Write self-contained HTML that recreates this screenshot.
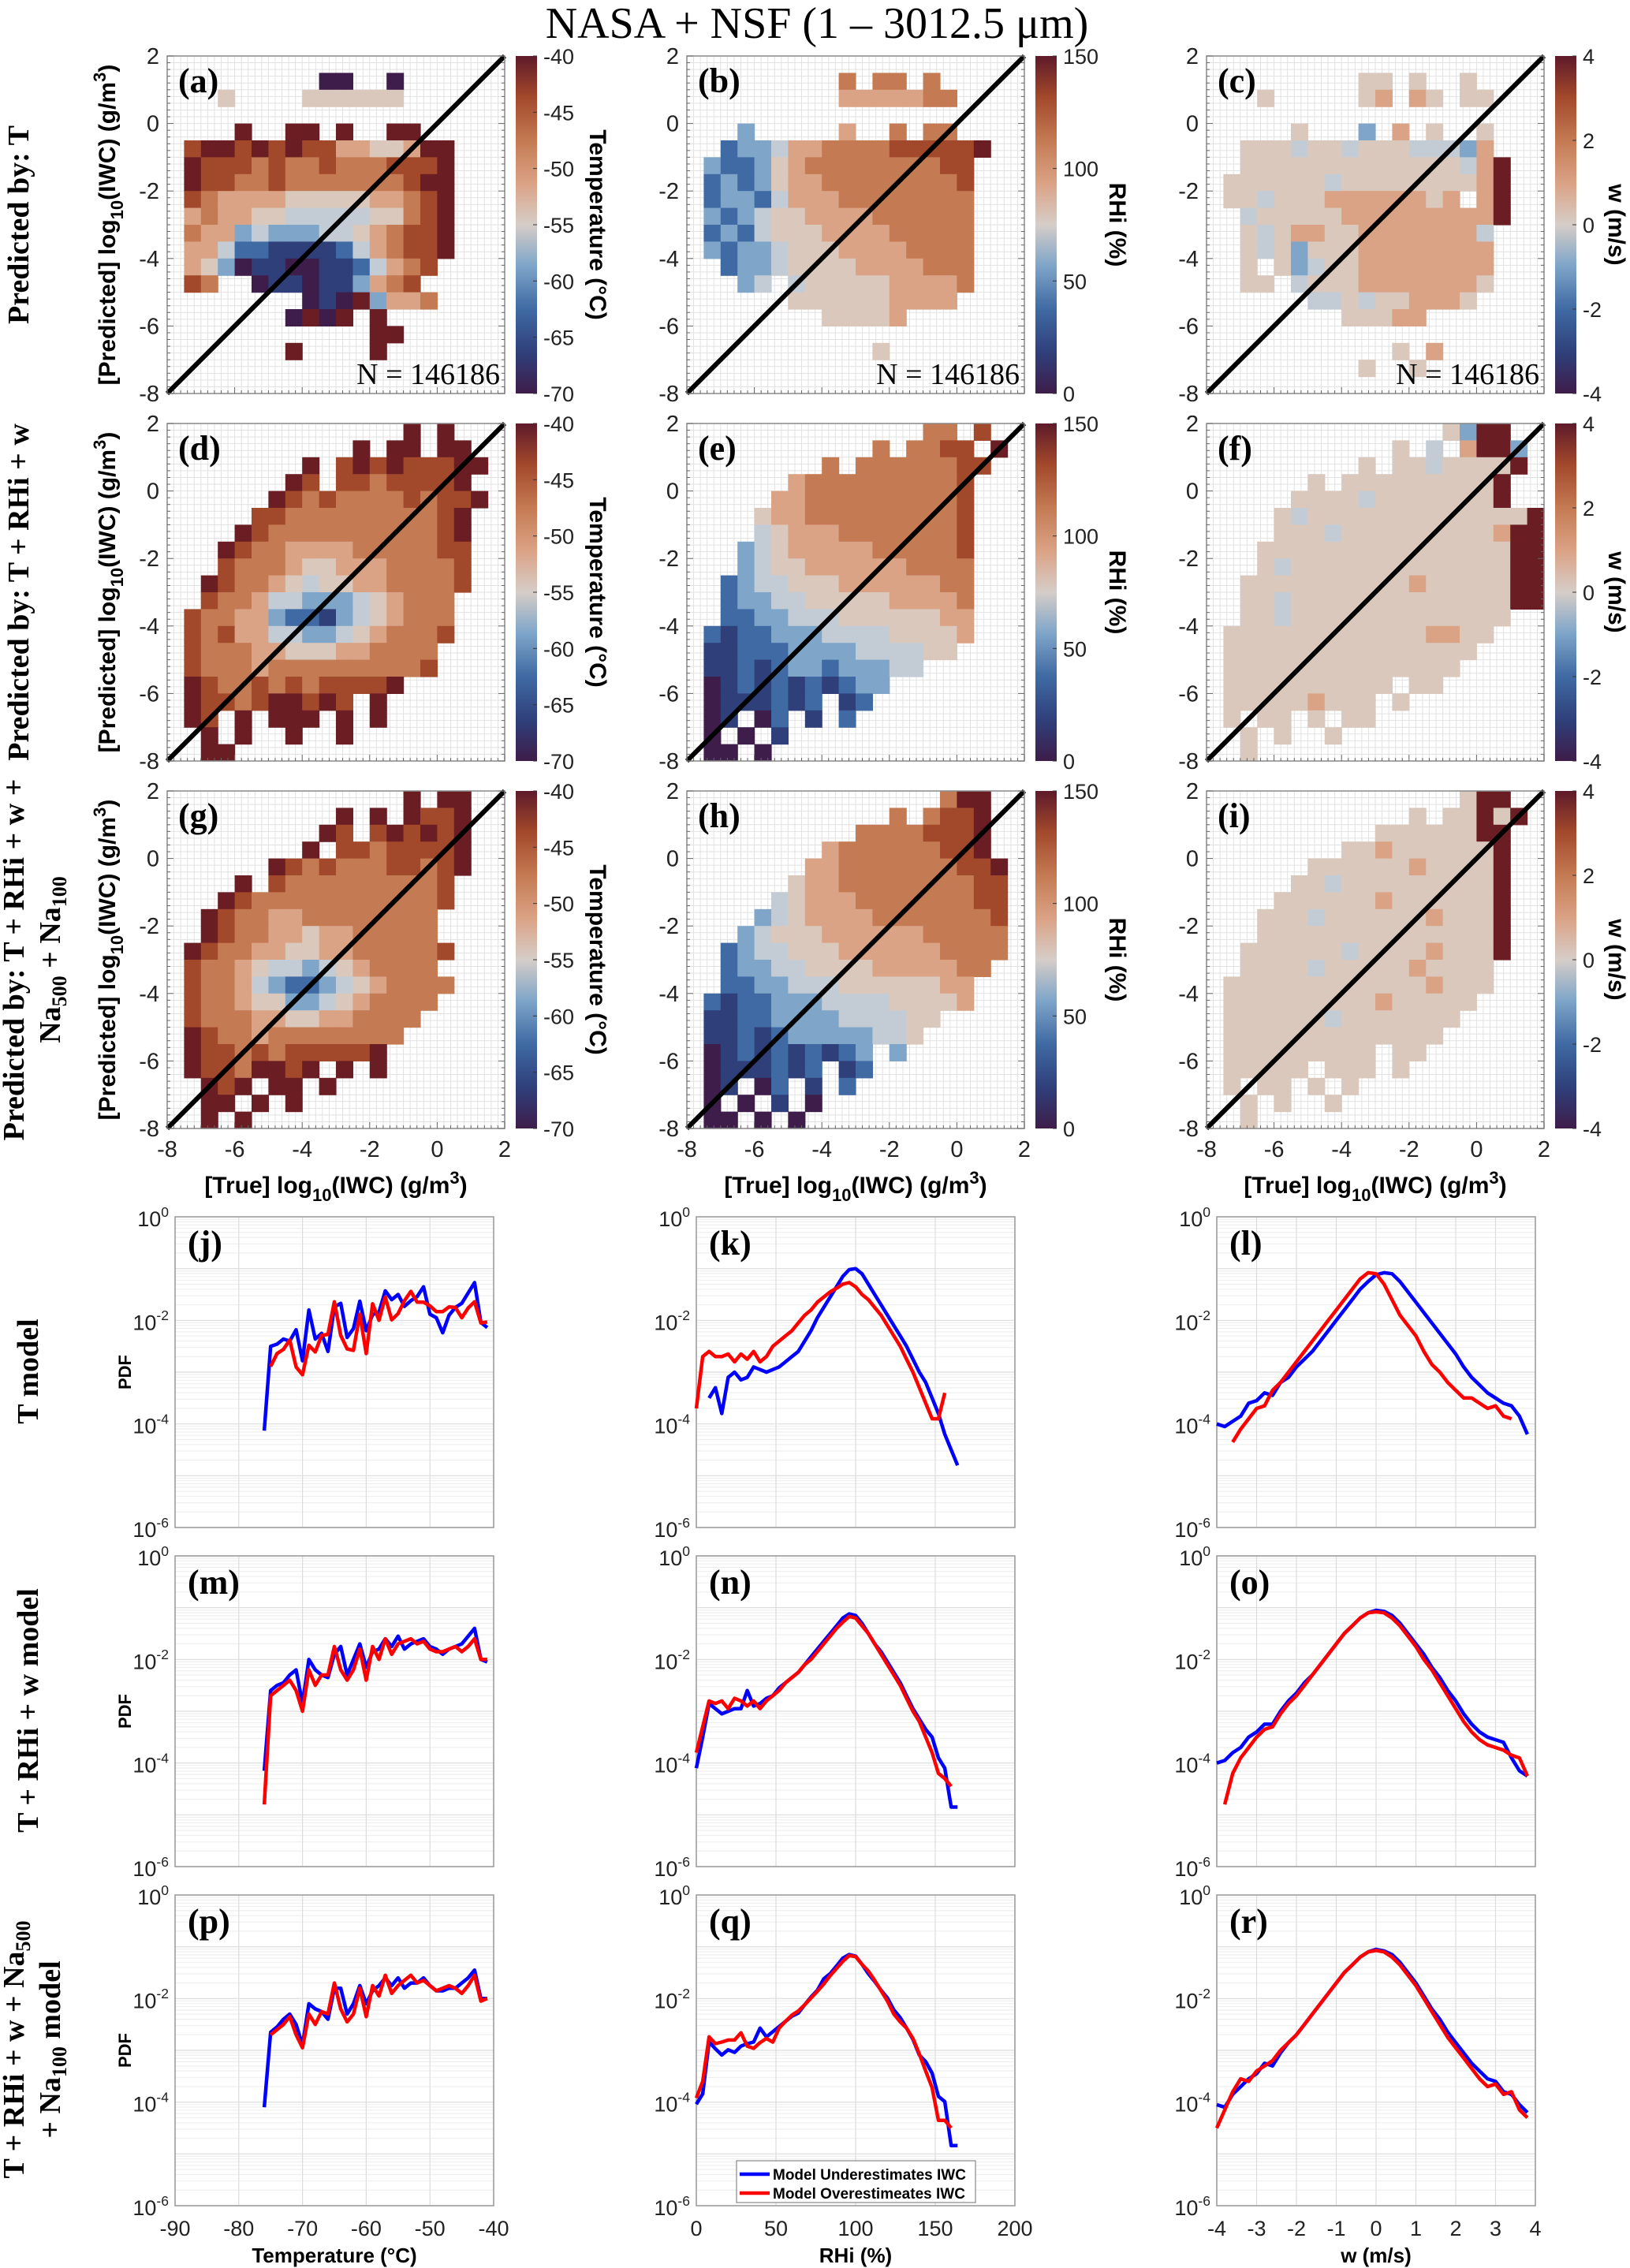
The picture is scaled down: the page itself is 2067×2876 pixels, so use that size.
<!DOCTYPE html>
<html><head><meta charset="utf-8"><title>NASA + NSF IWC prediction</title>
<style>
html,body{margin:0;padding:0;background:#fff;}
svg{display:block;font-family:"Liberation Sans",sans-serif;}
.tim{font-family:"Liberation Serif",serif;}
</style></head>
<body>
<svg id="fig" xmlns="http://www.w3.org/2000/svg" width="2067" height="2876" viewBox="0 0 2067 2876">
<defs>
<linearGradient id="cmap" x1="0" y1="1" x2="0" y2="0">
<stop offset="0" stop-color="#3e1d4a"/><stop offset="0.12" stop-color="#2f3f7a"/><stop offset="0.25" stop-color="#3f6aa3"/>
<stop offset="0.38" stop-color="#7fa6c9"/><stop offset="0.5" stop-color="#d6cdc8"/><stop offset="0.62" stop-color="#dba386"/>
<stop offset="0.75" stop-color="#c47a52"/><stop offset="0.88" stop-color="#a2482b"/><stop offset="1" stop-color="#5e1a2a"/>
</linearGradient>
</defs>
<text class="tim" x="1036" y="48" font-size="56" text-anchor="middle">NASA + NSF (1 – 3012.5 μm)</text>
</svg>
<script>
// ---------- heatmap data (rows top y=2 → bottom y=-8, cols x=-8 → 2, 0.5 bins; '.'=empty, 0-9 colour level) ----------
const gridA=["....................",".........00..0......","...5....555555......","....................","....9..99.9..99.....",".8998989886655699...",".9888787787778889...",".9887787777777899...",".8766665555566789...",".6766554444455789...",".7663433344567889...",".6642211112467889...",".653011001124678....",".87..0110113678.....","........01093667....",".......0909.9.......","............99......",".......9....9.......","....................","...................."];
const gridB=["....................",".........7.77.7.....",".........6666677....","....................","...3.....6..7.77....","..2334667777888889..",".3223567777777788...",".2323566777777778...",".2332466677777777...",".3234556666777777...",".2324555666677777...",".3233455566667777...","..233455556666777...","...34.45555566667...","......5555556666....","........55556.......","....................","...........5........","....................","...................."];
const gridC=["....................",".........55.5..5....","...5.....56.65.55...","....................",".....5...3.6.5..5...","..555455455544436...","..5555555555555469..",".55555545555555569..",".55455566666656 69..","..4555556666666669..","..545665566666664...","..545355566666666...","..5.5345566666666...","..55.455566666665...","......4454556665....","........55566.......","....................","...........5.6......",".........5..5.......","...................."];
const gridD=["..............9.9...","...........9.99.99..","........9.898988899.",".......98.88788889..","......9878777787889.",".....8877777777789..","....98777777777789..","...987766667777788..","...877765566677778..","..9877654556677778..","..877644333456777...",".8776632213456777...",".8786644334567778...",".877766555667777....",".877767777777778....",".9877878788889......",".9887899898.9.......",".98.9.999.9.9.......","..9.9..9..9.........","..99................"];
const gridE=["..............77.8..","...........7.7788.9.","........7.77777788..","......67777777778...",".....667777777778...","....5667777777778...","....4566677777778...","...34566666777778...","...34556666667777...","..234455566666677...","..233445555566667...","..223344455555566...",".2122333444455556...",".112223333444455....",".1121233233344......",".01212121233........",".0111212.12.........",".01.02.1.2..........",".0.0.1..............",".00.0..............."];
const gridF=["..............5399..","...........5.4.6993.",".........5.55455559.","......5.5555555559..",".....5555455555559..","....5455555555555559","....5554555555555699","...55555555555555599","...54555555555555599","..555555555565555599","..554555555555555599","..5545555555555555..",".5555555555556655...",".555555555555555....",".55555555555555.....",".5555555555.55......",".555556555.5........",".5.55.5.55..........","..5.5..5............","..5................."];
const gridG=["..............9.99..","..........9.9.9889..",".........98.898989..","........9.88788889..","......987877788789..","....9.87777777778...","...98777777777778...","..98776677777777....","..98776656677777....",".9877665566777778...",".877654434567777....",".8776432234567777...",".877655334567777....",".87776655667777.....",".9877677777777......",".988787888889.......",".98879989.9.9.......","..989.99.9..........","..99.9.9............","..9.9..............."];
const gridH=["...............799..","............7.7889..","..........77778889..","........6777777889..",".......667777777889.","......5667777777788.",".....45666777777788.","....345666677777778.","...3455566666677777.","..23445556666667777.","..2334455556666677..","..223344455555566...",".2122333444455556...",".11223333444455.....",".1121233333445......",".0121212123.3.......",".0111212.12.........",".01.02.1.2..........",".0.0.1.0............",".00.0.0............."];
const gridI=["...............599..","............5.55959.","..........55555599..","........5565555559..","......555555655559..",".....5545555555559..","....55555565555559..","...555455555565559..","...555555555555559..","..5555554555565559..","..555545555565555...",".5555555555556555...",".555555555655555....",".55555545555555.....",".5555555555555......",".555555555.55.......",".55555.555.5........",".5.55.5.5...........","..5.5..5............","..5................."];

// ---------- PDF line data (log10 PDF) ----------
const tempX=[-76,-75,-74,-73,-72,-71,-70,-69,-68,-67,-66,-65,-64,-63,-62,-61,-60,-59,-58,-57,-56,-55,-54,-53,-52,-51,-50,-49,-48,-47,-46,-45,-44,-43,-42,-41];
const jBlue=[-4.13,-2.5,-2.46,-2.36,-2.4,-2.18,-2.78,-1.8,-2.36,-2.25,-2.6,-1.74,-1.67,-2.33,-2.16,-1.63,-2.2,-1.89,-1.84,-1.43,-1.6,-1.5,-1.73,-1.62,-1.54,-1.35,-1.88,-1.95,-2.24,-1.9,-1.75,-1.67,-1.47,-1.27,-2.04,-2.14];
const jRed=[null,-2.89,-2.64,-2.56,-2.38,-2.9,-3.05,-2.48,-2.61,-2.29,-2.27,-1.64,-2.29,-2.55,-2.58,-1.88,-2.64,-1.68,-2.0,-1.55,-1.99,-1.87,-1.62,-1.44,-1.65,-1.65,-1.72,-1.83,-1.83,-1.74,-1.75,-1.95,-1.76,-1.64,-2.05,-2.03];
const mBlue=[-4.15,-2.6,-2.5,-2.45,-2.3,-2.2,-2.85,-2.0,-2.2,-2.3,-2.35,-1.9,-1.75,-2.3,-2.0,-1.7,-2.15,-1.85,-1.8,-1.6,-1.75,-1.55,-1.8,-1.7,-1.65,-1.6,-1.75,-1.8,-1.9,-1.8,-1.75,-1.7,-1.55,-1.4,-2.0,-2.05];
const mRed=[-4.8,-2.7,-2.6,-2.5,-2.4,-2.6,-3.0,-2.2,-2.5,-2.3,-2.3,-1.75,-2.2,-2.4,-2.2,-1.8,-2.4,-1.75,-2.0,-1.6,-1.9,-1.7,-1.65,-1.6,-1.7,-1.65,-1.8,-1.85,-1.85,-1.8,-1.75,-1.85,-1.75,-1.6,-2.0,-2.0];
const pBlue=[-4.1,-2.65,-2.55,-2.4,-2.3,-2.5,-2.9,-2.1,-2.2,-2.25,-2.4,-1.8,-1.8,-2.3,-2.1,-1.75,-2.1,-1.85,-1.75,-1.6,-1.75,-1.6,-1.8,-1.7,-1.7,-1.6,-1.75,-1.85,-1.85,-1.8,-1.8,-1.7,-1.6,-1.45,-2.0,-2.0];
const pRed=[null,-2.7,-2.6,-2.5,-2.35,-2.7,-2.95,-2.3,-2.5,-2.25,-2.3,-1.7,-2.2,-2.45,-2.3,-1.8,-2.35,-1.75,-1.95,-1.55,-1.9,-1.75,-1.65,-1.55,-1.7,-1.65,-1.75,-1.85,-1.8,-1.75,-1.8,-1.9,-1.75,-1.55,-2.05,-2.0];
const rhiX=[0,4,8,12,16,20,24,28,32,36,40,44,48,52,56,60,64,68,72,76,80,84,88,92,96,100,104,108,112,116,120,124,128,132,136,140,144,148,152,156,160,164];
const kBlue=[null,null,-3.5,-3.3,-3.8,-3.1,-3.0,-3.15,-3.1,-2.9,-2.95,-3.0,-2.95,-2.9,-2.8,-2.7,-2.6,-2.4,-2.2,-1.95,-1.75,-1.55,-1.35,-1.15,-1.02,-1.0,-1.1,-1.3,-1.5,-1.7,-1.9,-2.1,-2.3,-2.5,-2.75,-3.0,-3.2,-3.5,-3.8,-4.2,-4.5,-4.8];
const kRed=[-3.7,-2.7,-2.6,-2.7,-2.7,-2.65,-2.8,-2.65,-2.75,-2.6,-2.8,-2.7,-2.5,-2.4,-2.3,-2.2,-2.05,-1.9,-1.8,-1.65,-1.55,-1.45,-1.38,-1.3,-1.27,-1.35,-1.5,-1.6,-1.75,-1.9,-2.1,-2.3,-2.5,-2.75,-3.0,-3.3,-3.6,-3.9,-3.9,-3.4,null,null];
const nBlue=[-4.1,-3.5,-2.85,-2.95,-3.05,-3.0,-2.95,-2.95,-2.6,-2.9,-2.85,-2.75,-2.7,-2.55,-2.45,-2.35,-2.25,-2.1,-1.95,-1.8,-1.65,-1.5,-1.35,-1.2,-1.12,-1.15,-1.3,-1.5,-1.7,-1.85,-2.05,-2.25,-2.45,-2.7,-2.95,-3.15,-3.35,-3.5,-3.9,-4.1,-4.85,-4.85];
const nRed=[-3.8,-3.3,-2.8,-2.85,-2.8,-2.95,-2.75,-2.8,-2.9,-2.8,-2.95,-2.8,-2.7,-2.6,-2.45,-2.35,-2.25,-2.1,-2.0,-1.85,-1.7,-1.55,-1.4,-1.28,-1.17,-1.2,-1.35,-1.5,-1.7,-1.9,-2.1,-2.3,-2.5,-2.75,-3.0,-3.2,-3.5,-3.8,-4.2,-4.3,-4.45,null];
const qBlue=[-4.04,-3.84,-2.84,-2.97,-3.09,-2.99,-3.04,-2.92,-2.87,-2.84,-2.57,-2.74,-2.64,-2.54,-2.44,-2.34,-2.28,-2.12,-1.97,-1.84,-1.62,-1.52,-1.37,-1.22,-1.15,-1.18,-1.34,-1.52,-1.67,-1.84,-1.99,-2.22,-2.37,-2.57,-2.79,-3.09,-3.22,-3.44,-3.89,-3.99,-4.84,-4.84];
const qRed=[-3.92,-3.6,-2.74,-2.87,-2.84,-2.8,-2.8,-2.66,-2.92,-2.96,-2.85,-2.77,-2.84,-2.57,-2.44,-2.32,-2.24,-2.12,-1.99,-1.86,-1.72,-1.56,-1.42,-1.28,-1.17,-1.19,-1.34,-1.47,-1.65,-1.85,-2.05,-2.3,-2.45,-2.57,-2.77,-3.07,-3.4,-3.72,-4.35,-4.35,-4.5,null];
const wX=[-4,-3.8,-3.6,-3.4,-3.2,-3,-2.8,-2.6,-2.4,-2.2,-2,-1.8,-1.6,-1.4,-1.2,-1,-0.8,-0.6,-0.4,-0.2,0,0.2,0.4,0.6,0.8,1,1.2,1.4,1.6,1.8,2,2.2,2.4,2.6,2.8,3,3.2,3.4,3.6,3.8];
const lBlue=[-4.0,-4.05,-3.95,-3.85,-3.6,-3.55,-3.4,-3.45,-3.2,-3.1,-2.9,-2.75,-2.6,-2.4,-2.2,-2.0,-1.8,-1.6,-1.4,-1.25,-1.12,-1.08,-1.1,-1.25,-1.45,-1.65,-1.85,-2.05,-2.25,-2.45,-2.65,-2.9,-3.1,-3.25,-3.4,-3.5,-3.6,-3.65,-3.85,-4.2];
const lRed=[null,null,-4.35,-4.1,-3.9,-3.7,-3.65,-3.35,-3.2,-3.0,-2.8,-2.6,-2.4,-2.2,-2.0,-1.8,-1.6,-1.4,-1.2,-1.08,-1.1,-1.3,-1.6,-1.9,-2.1,-2.3,-2.6,-2.85,-3.0,-3.2,-3.35,-3.5,-3.5,-3.6,-3.7,-3.65,-3.85,-3.9,null,null];
const oBlue=[-4.0,-3.95,-3.8,-3.7,-3.5,-3.4,-3.25,-3.25,-3.0,-2.8,-2.65,-2.45,-2.3,-2.1,-1.9,-1.7,-1.5,-1.35,-1.2,-1.1,-1.05,-1.07,-1.15,-1.3,-1.5,-1.7,-1.9,-2.15,-2.35,-2.6,-2.8,-3.05,-3.25,-3.4,-3.5,-3.55,-3.6,-3.9,-4.15,-4.25];
const oRed=[null,-4.8,-4.2,-3.9,-3.7,-3.5,-3.35,-3.3,-3.05,-2.85,-2.7,-2.5,-2.3,-2.1,-1.9,-1.7,-1.5,-1.35,-1.2,-1.1,-1.08,-1.1,-1.2,-1.35,-1.55,-1.75,-2.0,-2.2,-2.45,-2.7,-2.95,-3.2,-3.4,-3.55,-3.65,-3.7,-3.75,-3.85,-3.9,-4.25];
const rBlue=[-4.05,-4.1,-3.85,-3.7,-3.55,-3.45,-3.25,-3.3,-3.05,-2.85,-2.7,-2.5,-2.3,-2.1,-1.9,-1.7,-1.5,-1.35,-1.2,-1.1,-1.05,-1.08,-1.15,-1.3,-1.5,-1.7,-1.95,-2.2,-2.4,-2.65,-2.85,-3.05,-3.25,-3.4,-3.55,-3.6,-3.8,-3.85,-4.05,-4.2];
const rRed=[-4.5,-4.15,-3.8,-3.55,-3.6,-3.4,-3.3,-3.2,-3.0,-2.85,-2.7,-2.5,-2.3,-2.1,-1.9,-1.7,-1.5,-1.35,-1.2,-1.1,-1.07,-1.1,-1.2,-1.35,-1.55,-1.75,-2.0,-2.25,-2.5,-2.75,-2.95,-3.15,-3.35,-3.55,-3.7,-3.65,-3.85,-3.8,-4.15,-4.3];

// ---------- tick labels ----------
const heatTicks=[-8,-6,-4,-2,0,2];
const cbTicksT=[-40,-45,-50,-55,-60,-65,-70];
const cbTicksR=[0,50,100,150];
const cbTicksW=[-4,-2,0,2,4];
const tempTicks=[-90,-80,-70,-60,-50,-40];
const rhiTicks=[0,50,100,150,200];
const wTicks=[-4,-3,-2,-1,0,1,2,3,4];
const logTicks=[0,-2,-4,-6];

const PAL=["#3e1d4a","#2f3f7a","#3f6aa3","#7fa6c9","#c3ccd5","#dac8bc","#dba386","#c47a52","#a2482b","#6b1d24"];
const NS="http://www.w3.org/2000/svg";
const svg=document.getElementById("fig");
function mk(tag,attrs,parent){const e=document.createElementNS(NS,tag);for(const k in attrs)e.setAttribute(k,attrs[k]);(parent||svg).appendChild(e);return e;}

const HX=[212,871,1530], HY=[71,537,1003], HS=428;
const PX=[222,883,1543], PY=[1543,1973,2403], PW=404, PH=394;

function supText(parent,x,y,base,sup,size,anchor){
  const t=mk("text",{x:x,y:y,"font-size":size,"text-anchor":anchor||"end",fill:"#222"},parent);
  const a=mk("tspan",{},t);a.textContent=base;
  const b=mk("tspan",{dy:-size*0.45,"font-size":size*0.65},t);b.textContent=sup;
  return t;
}

function heatPanel(ci,ri,grid,letter,cbKind,showN,showX){
  const L=HX[ci],T=HY[ri];
  const g=mk("g",{});
  
  
  const sx=v=>L+(v+8)/10*HS, sy=v=>T+(2-v)/10*HS;
  mk("rect",{x:L,y:T,width:HS,height:HS,fill:"#fff"},g);
  for(let i=0;i<=50;i++){const v=-8+i*0.2;
    mk("line",{x1:sx(v),y1:T,x2:sx(v),y2:T+HS,stroke:"#e2e2e2","stroke-width":1},g);
    mk("line",{x1:L,y1:sy(v),x2:L+HS,y2:sy(v),stroke:"#e2e2e2","stroke-width":1},g);}
  const cw=HS/20;
  for(let r=0;r<20;r++){const row=(grid[r]||"").padEnd(20,".");
    for(let c=0;c<20;c++){const ch=row[c];if(ch<"0"||ch>"9")continue;
      const cell=mk("rect",{x:sx(-8+c*0.5),y:sy(2-r*0.5),width:cw+0.6,height:cw+0.6,fill:PAL[+ch]},g);
      
      }}
  const d=mk("line",{x1:sx(-8),y1:sy(-8),x2:sx(2),y2:sy(2),stroke:"#000","stroke-width":6},g);
  
  
  mk("rect",{x:L,y:T,width:HS,height:HS,fill:"none",stroke:"#888","stroke-width":1.5},g);
  for(let i=0;i<=50;i++){const v=-8+i*0.2,len=(i%10==0)?8:4;
    mk("line",{x1:sx(v),y1:T+HS,x2:sx(v),y2:T+HS-len,stroke:"#666"},g);
    mk("line",{x1:L,y1:sy(v),x2:L+len,y2:sy(v),stroke:"#666"},g);
    mk("line",{x1:L+HS,y1:sy(v),x2:L+HS-len,y2:sy(v),stroke:"#666"},g);}
  heatTicks.forEach(v=>{const t=mk("text",{x:L-10,y:sy(v)+10,"font-size":29,"text-anchor":"end",fill:"#222"},g);t.textContent=v;
    if(showX){const u=mk("text",{x:sx(v),y:T+HS+36,"font-size":29,"text-anchor":"middle",fill:"#222"},g);u.textContent=v;}});
  const lab=mk("text",{x:L+14,y:T+46,"font-size":44,"font-weight":"bold","class":"tim"},g);lab.textContent="("+letter+")";
  
  
  if(showN){const n=mk("text",{x:L+HS-6,y:T+HS-12,"font-size":38,"text-anchor":"end","class":"tim"},g);n.textContent="N = 146186";
    
    }
  // colorbar
  const cx=L+442;
  const cb=mk("rect",{x:cx,y:T,width:27,height:HS,fill:"url(#cmap)"},g);
  
  
  let ticks,lo,hi,title;
  if(cbKind==="T"){ticks=cbTicksT;lo=-70;hi=-40;title="Temperature (°C)";}
  else if(cbKind==="R"){ticks=cbTicksR;lo=0;hi=150;title="RHi (%)";}
  else {ticks=cbTicksW;lo=-4;hi=4;title="w (m/s)";}
  ticks.forEach(v=>{const y=T+(hi-v)/(hi-lo)*HS;
    mk("line",{x1:cx+22,y1:y,x2:cx+27,y2:y,stroke:"#333"},g);
    const t=mk("text",{x:cx+35,y:y+10,"font-size":27,fill:"#222"},g);t.textContent=v;});
  const tx=cbKind==="W"?L+510:L+536;
  const ct=mk("text",{x:tx,y:T+HS/2,"font-size":30,"font-weight":"bold","text-anchor":"middle",transform:`rotate(90 ${tx} ${T+HS/2})`},g);
  ct.textContent=title;
  
  
  if(ci===0){const yx=146,yy=T+HS/2;
    const yt=mk("text",{x:yx,y:yy,"font-size":30,"font-weight":"bold","text-anchor":"middle",transform:`rotate(-90 ${yx} ${yy})`},g);
    
    
    const p1=mk("tspan",{},yt);p1.textContent="[Predicted] log";
    const p2=mk("tspan",{dy:10,"font-size":22},yt);p2.textContent="10";
    const p3=mk("tspan",{dy:-10},yt);p3.textContent="(IWC) (g/m";
    const p4=mk("tspan",{dy:-12,"font-size":22},yt);p4.textContent="3";
    const p5=mk("tspan",{dy:12},yt);p5.textContent=")";}
  if(showX){const xt=mk("text",{x:L+HS/2,y:T+HS+82,"font-size":30,"font-weight":"bold","text-anchor":"middle"},g);
    
    
    const a=mk("tspan",{},xt);a.textContent="[True] log";
    const b=mk("tspan",{dy:10,"font-size":22},xt);b.textContent="10";
    const c=mk("tspan",{dy:-10},xt);c.textContent="(IWC) (g/m";
    const d2=mk("tspan",{dy:-12,"font-size":22},xt);d2.textContent="3";
    const e=mk("tspan",{dy:12},xt);e.textContent=")";}
}

function pdfPanel(ci,ri,xs,blue,red,letter,dom,ticks,showX,xtitle){
  const L=PX[ci],T=PY[ri];
  const g=mk("g",{});
  
  
  const sx=v=>L+(v-dom[0])/(dom[1]-dom[0])*PW, sy=v=>T+(0-v)/6*PH;
  mk("rect",{x:L,y:T,width:PW,height:PH,fill:"#fff"},g);
  for(let d=-6;d<0;d++)for(let k=2;k<=9;k++){const y=sy(d+Math.log10(k));
    mk("line",{x1:L,y1:y,x2:L+PW,y2:y,stroke:"#efefef","stroke-width":1.2},g);}
  for(let d=-6;d<=0;d++)mk("line",{x1:L,y1:sy(d),x2:L+PW,y2:sy(d),stroke:"#dcdcdc","stroke-width":1.2},g);
  ticks.forEach(v=>mk("line",{x1:sx(v),y1:T,x2:sx(v),y2:T+PH,stroke:"#dcdcdc","stroke-width":1.2},g));
  mk("rect",{x:L,y:T,width:PW,height:PH,fill:"none",stroke:"#999","stroke-width":1.5},g);
  function line(arr,col,name){let d="",pen=false;
    arr.forEach((v,i)=>{if(v===null){pen=false;return;}d+=(pen?"L":"M")+sx(xs[i]).toFixed(1)+" "+sy(v).toFixed(1)+" ";pen=true;});
    const p=mk("path",{d:d,fill:"none",stroke:col,"stroke-width":4.5,"stroke-linejoin":"round"},g);
    
    }
  line(blue,"#0000ff","line-underestimates");
  line(red,"#ff0000","line-overestimates");
  logTicks.forEach(v=>supText(g,L-8,sy(v)+12,"10",String(v),27,"end"));
  if(showX){ticks.forEach(v=>{const t=mk("text",{x:sx(v),y:T+PH+38,"font-size":27,"text-anchor":"middle",fill:"#222"},g);t.textContent=v;});
    const xt=mk("text",{x:L+PW/2,y:T+PH+72,"font-size":26,"font-weight":"bold","text-anchor":"middle"},g);xt.textContent=xtitle;
    
    }
  const lab=mk("text",{x:L+16,y:T+48,"font-size":44,"font-weight":"bold","class":"tim"},g);lab.textContent="("+letter+")";
  
  
  if(ci===0){const px=166,py=T+PH/2;
    const t=mk("text",{x:px,y:py,"font-size":22,"font-weight":"bold","text-anchor":"middle",transform:`rotate(-90 ${px} ${py})`},g);t.textContent="PDF";
    
    }
}

heatPanel(0,0,gridA,"a","T",true,false);
heatPanel(1,0,gridB,"b","R",true,false);
heatPanel(2,0,gridC,"c","W",true,false);
heatPanel(0,1,gridD,"d","T",false,false);
heatPanel(1,1,gridE,"e","R",false,false);
heatPanel(2,1,gridF,"f","W",false,false);
heatPanel(0,2,gridG,"g","T",false,true);
heatPanel(1,2,gridH,"h","R",false,true);
heatPanel(2,2,gridI,"i","W",false,true);

pdfPanel(0,0,tempX,jBlue,jRed,"j",[-90,-40],tempTicks,false,"");
pdfPanel(1,0,rhiX,kBlue,kRed,"k",[0,200],rhiTicks,false,"");
pdfPanel(2,0,wX,lBlue,lRed,"l",[-4,4],wTicks,false,"");
pdfPanel(0,1,tempX,mBlue,mRed,"m",[-90,-40],tempTicks,false,"");
pdfPanel(1,1,rhiX,nBlue,nRed,"n",[0,200],rhiTicks,false,"");
pdfPanel(2,1,wX,oBlue,oRed,"o",[-4,4],wTicks,false,"");
pdfPanel(0,2,tempX,pBlue,pRed,"p",[-90,-40],tempTicks,true,"Temperature (°C)");
pdfPanel(1,2,rhiX,qBlue,qRed,"q",[0,200],rhiTicks,true,"RHi (%)");
pdfPanel(2,2,wX,rBlue,rRed,"r",[-4,4],wTicks,true,"w (m/s)");

// legend in (q)
const lg=mk("g",{});


mk("rect",{x:934,y:2740,width:303,height:53,fill:"#fff",stroke:"#888","stroke-width":1.2},lg);
mk("line",{x1:938,y1:2757,x2:976,y2:2757,stroke:"#0000ff","stroke-width":4.5},lg);
mk("line",{x1:938,y1:2781,x2:976,y2:2781,stroke:"#ff0000","stroke-width":4.5},lg);
const le1=mk("text",{x:980,y:2764,"font-size":19,"font-weight":"bold"},lg);le1.textContent="Model Underestimates IWC";


const le2=mk("text",{x:980,y:2788,"font-size":19,"font-weight":"bold"},lg);le2.textContent="Model Overestimeates IWC";



// row labels: parts = [text, dy, isSubscript]
function rowLabel(x,y,parts,name){
  const t=mk("text",{x:x,y:y,"font-size":38,"font-weight":"bold","text-anchor":"middle","class":"tim",transform:`rotate(-90 ${x} ${y})`});
  
  
  parts.forEach(p=>{const a={};if(p[1])a.dy=p[1];if(p[2])a["font-size"]=26;const s=mk("tspan",a,t);s.textContent=p[0];});
}
rowLabel(36,285,[["Predicted by: T"]],"row-label-t");
rowLabel(36,751,[["Predicted by: T + RHi + w"]],"row-label-t-rhi-w");
rowLabel(30,1217,[["Predicted by: T + RHi + w +"]],"row-label-all-line1");
rowLabel(76,1217,[["Na"],["500",8,true],[" + Na",-8,false],["100",8,true]],"row-label-all-line2");
rowLabel(48,1739,[["T model"]],"row-label-t-model");
rowLabel(48,2169,[["T + RHi + w model"]],"row-label-t-rhi-w-model");
rowLabel(30,2599,[["T + RHi + w + Na"],["500",8,true]],"row-label-all-model-line1");
rowLabel(76,2599,[["+ Na"],["100",8,true],[" model",-8,false]],"row-label-all-model-line2");
</script>
</body></html>
